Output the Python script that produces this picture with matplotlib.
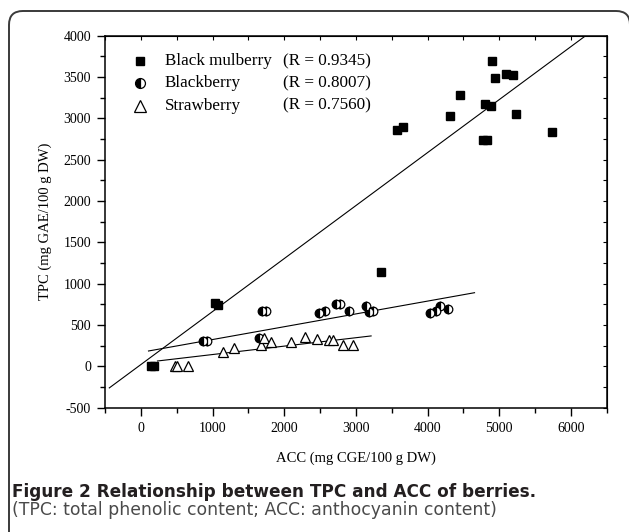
import numpy as np
import matplotlib
matplotlib.use("Agg")
import matplotlib.pyplot as plt
from matplotlib.patches import FancyBboxPatch
from matplotlib.ticker import MultipleLocator

plt.rcParams["axes.unicode_minus"] = False

# data (ACC, TPC)
mulberry_acc = [4898, 4935, 5093, 5190, 4447, 4795, 4889, 4308, 5241, 3575,
                3658, 5742, 4773, 4828, 3347, 1035, 1077, 139, 177]
mulberry_tpc = [3692, 3486, 3542, 3526, 3284, 3171, 3151, 3026, 3050, 2860,
                2893, 2840, 2740, 2740, 1139, 771, 739, 0, 0]

blackberry_acc = [873, 919, 1695, 1750, 1648, 2484, 2563, 2730, 2776, 2902,
                  3144, 3190, 3236, 4039, 4119, 4178, 4280]
blackberry_tpc = [307, 307, 670, 670, 347, 650, 667, 759, 751, 674,
                  735, 662, 674, 650, 670, 731, 695]

strawberry_acc = [478, 500, 664, 1145, 1298, 1671, 1717, 1820, 2089, 2284,
                  2460, 2623, 2679, 2818, 2957]
strawberry_tpc = [5, 5, 5, 178, 219, 263, 347, 299, 299, 352,
                  335, 316, 320, 263, 263]

# fitted lines as drawn: (slope, intercept, x start, x end)
mulberry_fit = (0.641, 21.5, -440, 6500)
blackberry_fit = (0.155, 169.4, 107, 4656)
strawberry_fit = (0.1017, 41.4, 232, 3213)

labels = ["Black mulberry", "Blackberry", "Strawberry"]
r_texts = ["(R = 0.9345)", "(R = 0.8007)", "(R = 0.7560)"]

serif = "Liberation Serif"

W, H = 629, 532
fig = plt.figure(figsize=(W / 100, H / 100), dpi=100)

# rounded frame around the whole figure
frame = FancyBboxPatch((9 / W, -20 / H), 621 / W, 541 / H,
                       boxstyle="round,pad=0,rounding_size=0.022",
                       transform=fig.transFigure, fill=False,
                       edgecolor="#3a3a3a", linewidth=1.4, mutation_aspect=W / H)
fig.patches.append(frame)

ax = fig.add_axes([105 / W, 1 - 407.7 / H, 501.7 / W, 372 / H])

sq = dict(marker="s", color="black", markersize=5.6, linestyle="none")
ci = dict(marker="o", markersize=6.2, linestyle="none", fillstyle="left",
          markerfacecolor="black", markerfacecoloralt="white",
          markeredgecolor="black", markeredgewidth=0.9)
tr = dict(marker="^", markersize=7.5, linestyle="none", markerfacecolor="white",
          markeredgecolor="black", markeredgewidth=0.9)

ax.plot(mulberry_acc, mulberry_tpc, **sq, zorder=3)
ax.plot(blackberry_acc, blackberry_tpc, **ci, zorder=3)
ax.plot(strawberry_acc, strawberry_tpc, **tr, zorder=3)

for slope, icpt, x0, x1 in [mulberry_fit, blackberry_fit, strawberry_fit]:
    xs = np.array([x0, x1])
    ax.plot(xs, slope * xs + icpt, color="black", linewidth=0.8, zorder=2)

ax.set_xlim(-500, 6500)
ax.set_ylim(-500, 4000)
ax.xaxis.set_major_locator(MultipleLocator(1000))
ax.xaxis.set_minor_locator(MultipleLocator(500))
ax.yaxis.set_major_locator(MultipleLocator(500))
ax.yaxis.set_minor_locator(MultipleLocator(250))
ax.set_xticks(range(0, 6001, 1000))
ax.tick_params(which="major", direction="out", length=6, width=1, pad=4,
               labelsize=10, labelfontfamily=serif)
ax.tick_params(which="minor", direction="out", length=3.5, width=1)

for s in ax.spines.values():
    s.set_linewidth(1.1)

top = ax.secondary_xaxis("top")
top.xaxis.set_major_locator(MultipleLocator(1000))
top.xaxis.set_minor_locator(MultipleLocator(500))
top.tick_params(which="both", direction="in", length=3, width=0.8, labeltop=False)
right = ax.secondary_yaxis("right")
right.yaxis.set_major_locator(MultipleLocator(500))
right.yaxis.set_minor_locator(MultipleLocator(250))
right.tick_params(which="both", direction="in", length=3, width=0.8, labelright=False)

ax.set_xlabel("ACC (mg CGE/100 g DW)", family=serif, fontsize=10.5, labelpad=12)
ax.set_ylabel("TPC (mg GAE/100 g DW)", family=serif, fontsize=10.5, labelpad=8)

# legend drawn by hand to keep the R column aligned
rows_y = [0.932, 0.872, 0.812]
for y, style, lab, rt in zip(rows_y, [sq, ci, tr], labels, r_texts):
    st = dict(style)
    st["markersize"] = style["markersize"] * 1.15
    ax.plot([0.0698], [y], transform=ax.transAxes, clip_on=False, **st)
    ax.text(0.1196, y, lab, transform=ax.transAxes, va="center", ha="left",
            family=serif, fontsize=12.3)
    ax.text(0.3548, y, rt, transform=ax.transAxes, va="center", ha="left",
            family=serif, fontsize=12.3)

fig.text(12 / W, 1 - 497 / H, "Figure 2 Relationship between TPC and ACC of berries.",
         family="DejaVu Sans", fontweight="bold", fontsize=12.2, color="#231f20",
         va="baseline", ha="left")
fig.text(12 / W, 1 - 515 / H, "(TPC: total phenolic content; ACC: anthocyanin content)",
         family="DejaVu Sans", fontsize=12.4, color="#4a4a4a",
         va="baseline", ha="left")

fig.savefig("out.png", dpi=100)
